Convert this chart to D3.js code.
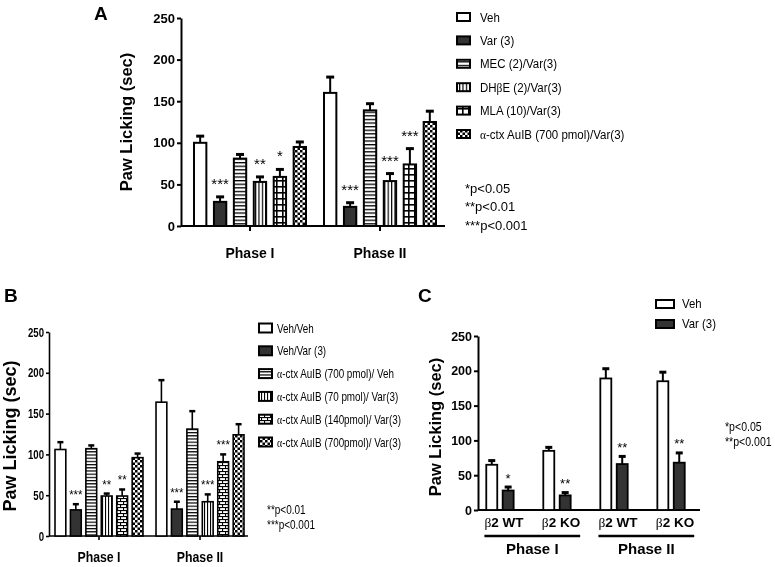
<!DOCTYPE html>
<html><head><meta charset="utf-8">
<script src="https://cdn.jsdelivr.net/npm/d3@7/dist/d3.min.js"></script>
<style>body{margin:0;background:#fff}svg{display:block}</style>
</head><body>
<svg id="chart" width="775" height="567"></svg>
<script>
// ---------------- DATA ----------------
const phases = ["Phase I", "Phase II"];
const yTicks = [0, 50, 100, 150, 200, 250];

// Panel A
const seriesA = ["Veh", "Var (3)", "MEC (2)/Var(3)", "DHβE (2)/Var(3)", "MLA (10)/Var(3)", "α-ctx AuIB (700 pmol)/Var(3)"];
const meansA = [[100, 29, 81, 53, 59, 95], [160, 23, 139, 54, 74, 125]];
const semsA  = [[8, 6, 5, 6, 9, 6], [19, 5, 8, 9, 19, 13]];
const starsA = [["", "***", "", "**", "*", ""], ["", "***", "", "***", "***", ""]];
const pTextA = ["*p<0.05", "**p<0.01", "***p<0.001"];

// Panel B
const seriesB = ["Veh/Veh", "Veh/Var (3)", "α-ctx AuIB (700 pmol)/ Veh", "α-ctx AuIB (70 pmol)/ Var(3)", "α-ctx AuIB (140pmol)/ Var(3)", "α-ctx AuIB (700pmol)/ Var(3)"];
const meansB = [[106, 32, 107, 49, 49, 96], [164, 33, 131, 42, 91, 124]];
const semsB  = [[9, 7, 4, 3, 8, 5], [27, 9, 22, 9, 9, 13]];
const starsB = [["", "***", "", "**", "**", ""], ["", "***", "", "***", "***", ""]];
const pTextB = ["**p<0.01", "***p<0.001"];

// Panel C
const groupsC = ["β2 WT", "β2 KO", "β2 WT", "β2 KO"];
const groupPhaseC = [0, 0, 1, 1];
const seriesC = ["Veh", "Var (3)"];
const meansC = [[65, 28], [85, 21], [189, 66], [185, 68]];
const semsC  = [[6, 5], [5, 4], [14, 11], [13, 14]];
const starsC = [["", "*"], ["", "**"], ["", "**"], ["", "**"]];
const pTextC = ["*p<0.05", "**p<0.001"];

// ---------------- STYLE ----------------
const SANS = "'Liberation Sans', Arial, sans-serif";
const SERIF = "'Liberation Serif', 'Times New Roman', serif";
const DARK = "#333";

const svg = d3.select("#chart");
svg.append("rect").attr("width", 775).attr("height", 567).attr("fill", "#fff");
const defs = svg.append("defs");
const root = svg.append("g").attr("opacity", 0.999);

function pattern(id, w, h, draw) {
  const p = defs.append("pattern").attr("id", id).attr("patternUnits", "userSpaceOnUse")
    .attr("width", w).attr("height", h);
  p.append("rect").attr("width", w).attr("height", h).attr("fill", "#fff");
  draw(p, w, h);
}
pattern("hs", 6, 3.6, (p, w) => p.append("rect").attr("width", w).attr("height", 1.3).attr("fill", "#000"));
pattern("hsB", 6, 3.2, (p, w) => p.append("rect").attr("width", w).attr("height", 1.2).attr("fill", "#000"));
pattern("vs", 3.4, 6, (p, w, h) => p.append("rect").attr("width", 1.2).attr("height", h).attr("fill", "#000"));
pattern("vsB", 3.0, 6, (p, w, h) => p.append("rect").attr("width", 1.1).attr("height", h).attr("fill", "#000"));
pattern("grid", 6, 6, (p, w, h) => {
  p.append("rect").attr("width", w).attr("height", 1.6).attr("fill", "#000");
  p.append("rect").attr("width", 1.6).attr("height", h).attr("fill", "#000");
});
pattern("chk", 5, 5, p => {
  p.append("rect").attr("width", 2.5).attr("height", 2.5).attr("fill", "#000");
  p.append("rect").attr("x", 2.5).attr("y", 2.5).attr("width", 2.5).attr("height", 2.5).attr("fill", "#000");
});
pattern("brick", 6, 6, p => {
  p.append("rect").attr("width", 6).attr("height", 1.1).attr("fill", "#000");
  p.append("rect").attr("y", 3).attr("width", 6).attr("height", 1.1).attr("fill", "#000");
  p.append("rect").attr("x", 0).attr("width", 1.1).attr("height", 3).attr("fill", "#000");
  p.append("rect").attr("x", 3).attr("y", 3).attr("width", 1.1).attr("height", 3).attr("fill", "#000");
});

const fillsA = ["#fff", DARK, "url(#hs)", "url(#vs)", "url(#grid)", "url(#chk)"];
const fillsB = ["#fff", DARK, "url(#hsB)", "url(#vsB)", "url(#brick)", "url(#chk)"];
const fillsC = ["#fff", DARK];

// text with greek letters in a serif face
function rich(sel, str) {
  str.split(/([\u0370-\u03FF]+)/).forEach(part => {
    if (!part) return;
    const t = sel.append("tspan").text(part);
    if (/[\u0370-\u03FF]/.test(part)) t.attr("font-family", SERIF).attr("font-weight", "normal");
  });
}
// place a text at (x,y) with horizontal condensing factor sx
function place(sel, x, y, sx) {
  sel.attr("transform", `translate(${x},${y}) scale(${sx},1)`);
}

function panel(c) {
  const g = root.append("g");
  const y = d3.scaleLinear().domain([0, 250]).range([c.y0, c.y1]);
  const x0 = d3.scaleBand().domain(d3.range(c.means.length)).range(c.xRange)
    .paddingInner(c.pIn).paddingOuter(c.pOut);
  const x1 = d3.scaleBand().domain(d3.range(c.series.length)).range([0, x0.bandwidth()])
    .paddingInner(c.p1In).paddingOuter(c.p1Out || 0);

  // y axis
  const ya = g.append("g").attr("transform", `translate(${c.left},0)`)
    .call(d3.axisLeft(y).tickValues(yTicks).tickSize(c.tick).tickSizeOuter(0).tickPadding(c.tickPad));
  ya.select(".domain").attr("stroke-width", c.axisW).attr("stroke", "#000");
  ya.selectAll(".tick line").attr("stroke-width", c.axisW).attr("stroke", "#000");
  ya.selectAll(".tick text").attr("font-family", SANS).attr("font-size", c.tickSize)
    .attr("font-weight", "bold").attr("fill", "#000")
    .each(function() {
      const t = d3.select(this), x = +t.attr("x");
      t.attr("x", 0); place(t, x, 0, c.tickSx);
    });

  // x axis
  const xa = g.append("g").attr("transform", `translate(0,${c.y0})`)
    .call(d3.axisBottom(x0).tickSize(c.xTick).tickSizeOuter(0).tickFormat(""));
  xa.select(".domain").remove();
  xa.selectAll(".tick line").attr("stroke-width", c.axisW).attr("stroke", "#000");
  g.append("line").attr("x1", c.left).attr("x2", c.right).attr("y1", c.y0).attr("y2", c.y0)
    .attr("stroke", "#000").attr("stroke-width", c.axisW);

  // bars
  const recs = [];
  c.means.forEach((row, gi) => row.forEach((m, si) =>
    recs.push({gi, si, m, e: c.sems[gi][si], st: c.stars[gi][si]})));
  const cx = d => x0(d.gi) + x1(d.si) + x1.bandwidth() / 2;
  const bars = g.append("g").selectAll("g").data(recs).join("g");
  bars.append("rect")
    .attr("x", d => x0(d.gi) + x1(d.si)).attr("y", d => y(d.m))
    .attr("width", x1.bandwidth()).attr("height", d => y(0) - y(d.m))
    .attr("fill", d => c.fills[d.si]).attr("stroke", "#000").attr("stroke-width", c.barW);
  bars.append("line").attr("x1", cx).attr("x2", cx).attr("y1", d => y(d.m)).attr("y2", d => y(d.m + d.e))
    .attr("stroke", "#000").attr("stroke-width", c.errW);
  bars.append("line").attr("x1", d => cx(d) - c.capW / 2).attr("x2", d => cx(d) + c.capW / 2)
    .attr("y1", d => y(d.m + d.e)).attr("y2", d => y(d.m + d.e))
    .attr("stroke", "#000").attr("stroke-width", c.capH);
  bars.append("text")
    .attr("transform", d => `translate(${cx(d)},${y(d.m + d.e) - c.starOff}) scale(${c.starSx},1)`)
    .attr("text-anchor", "middle").attr("font-family", SANS).attr("font-size", c.starSize)
    .attr("fill", "#000").text(d => d.st);

  // y title
  g.append("text").attr("transform", `translate(${c.titleX},${c.titleY}) rotate(-90)`)
    .attr("text-anchor", "middle").attr("font-family", SANS).attr("font-weight", "bold")
    .attr("font-size", c.titleSize).attr("fill", "#000").text("Paw Licking (sec)");

  // panel letter
  g.append("text").attr("x", c.letterX).attr("y", c.letterY).attr("font-family", SANS)
    .attr("font-weight", "bold").attr("font-size", 19).attr("fill", "#000").text(c.letter);

  // legend
  const lg = g.append("g");
  c.series.forEach((s, i) => {
    const yy = c.legY + i * c.legStep;
    lg.append("rect").attr("x", c.legX).attr("y", yy - c.swH / 2).attr("width", c.swW).attr("height", c.swH)
      .attr("fill", c.fills[i]).attr("stroke", "#000").attr("stroke-width", c.swStroke);
    const t = lg.append("text").attr("font-family", SANS).attr("font-size", c.legFont).attr("fill", "#000");
    place(t, c.legTextX, yy + c.legFont * 0.36, c.legSx);
    rich(t, s);
  });

  // p-value notes
  c.pText.forEach((p, i) => {
    const t = g.append("text").attr("font-family", SANS).attr("font-size", c.pSize).attr("fill", "#000").text(p);
    place(t, c.pX, c.pY + i * c.pStep, c.pSx);
  });
  return {g, x0, x1, y};
}

// ---------------- PANEL A ----------------
const A = panel({
  means: meansA, sems: semsA, stars: starsA, series: seriesA, fills: fillsA,
  y0: 226, y1: 18, xRange: [181, 449], pIn: 0.1385, pOut: 0.1, p1In: 0.38,
  left: 181, right: 445, tick: 4, tickPad: 2, axisW: 2, tickSize: 13, tickSx: 1,
  xTick: 5, barW: 2, errW: 2, capW: 8, capH: 3, starOff: 8, starSize: 15, starSx: 1,
  titleX: 132, titleY: 122, titleSize: 16.5, letter: "A", letterX: 94, letterY: 20,
  legX: 457, legY: 17, legStep: 23.4, swW: 13, swH: 8, swStroke: 2, legTextX: 480,
  legFont: 12.5, legSx: 0.92,
  pText: pTextA, pX: 465, pY: 192.5, pStep: 18.5, pSize: 13, pSx: 1
});
A.g.append("g").selectAll("text").data(phases).join("text")
  .attr("x", (d, i) => A.x0(i) + A.x0.bandwidth() / 2).attr("y", 258)
  .attr("text-anchor", "middle").attr("font-family", SANS).attr("font-weight", "bold")
  .attr("font-size", 14).text(d => d);

// ---------------- PANEL B ----------------
const B = panel({
  means: meansB, sems: semsB, stars: starsB, series: seriesB, fills: fillsB,
  y0: 536, y1: 332, xRange: [49, 250], pIn: 0.129, pOut: 0.0594, p1In: 0.3,
  left: 49, right: 248, tick: 3, tickPad: 2, axisW: 1.6, tickSize: 13, tickSx: 0.74,
  xTick: 4, barW: 1.6, errW: 1.6, capW: 6, capH: 2.5, starOff: 5, starSize: 13.5, starSx: 0.85,
  titleX: 16, titleY: 436, titleSize: 18, letter: "B", letterX: 4, letterY: 302,
  legX: 259, legY: 328, legStep: 22.8, swW: 13, swH: 9, swStroke: 2, legTextX: 277,
  legFont: 12.5, legSx: 0.79,
  pText: pTextB, pX: 267, pY: 514, pStep: 15, pSize: 12.5, pSx: 0.8
});
B.g.append("g").selectAll("text").data(phases).join("text")
  .attr("text-anchor", "middle").attr("font-family", SANS).attr("font-weight", "bold")
  .attr("font-size", 14).text(d => d)
  .each(function(d, i) { place(d3.select(this), B.x0(i) + B.x0.bandwidth() / 2, 562, 0.88); });

// ---------------- PANEL C ----------------
const C = panel({
  means: meansC, sems: semsC, stars: starsC, series: seriesC, fills: fillsC,
  y0: 510, y1: 336, xRange: [478, 693], pIn: 0.52, pOut: 0.145, p1In: 0.33,
  left: 478, right: 700, tick: 4, tickPad: 2, axisW: 2, tickSize: 12.5, tickSx: 1,
  xTick: 0, barW: 1.8, errW: 2, capW: 7, capH: 3, starOff: 4.5, starSize: 13, starSx: 1,
  titleX: 441, titleY: 427, titleSize: 16.5, letter: "C", letterX: 418, letterY: 302,
  legX: 656, legY: 304, legStep: 20, swW: 18, swH: 8, swStroke: 2, legTextX: 682,
  legFont: 12, legSx: 0.95,
  pText: pTextC, pX: 725, pY: 431, pStep: 15, pSize: 12, pSx: 0.88
});
// group labels (β2 WT / β2 KO)
const labC = C.g.append("g").selectAll("text").data(groupsC).join("text")
  .attr("x", (d, i) => C.x0(i) + C.x0.bandwidth() / 2 + 4).attr("y", 527)
  .attr("text-anchor", "middle").attr("font-family", SANS).attr("font-weight", "bold")
  .attr("font-size", 13.5).attr("fill", "#000");
labC.each(function(d) { rich(d3.select(this), d); });
// phase underlines + phase titles
phases.forEach((ph, pi) => {
  const idx = d3.range(groupsC.length).filter(i => groupPhaseC[i] === pi);
  const boxes = idx.map(i => labC.nodes()[i].getBBox());
  const xa = d3.min(boxes, b => b.x), xb = d3.max(boxes, b => b.x + b.width);
  C.g.append("line").attr("x1", xa).attr("x2", xb).attr("y1", 536).attr("y2", 536)
    .attr("stroke", "#000").attr("stroke-width", 2.5);
  C.g.append("text").attr("x", (xa + xb) / 2).attr("y", 554).attr("text-anchor", "middle")
    .attr("font-family", SANS).attr("font-weight", "bold").attr("font-size", 15).text(ph);
});
</script>
</body></html>
